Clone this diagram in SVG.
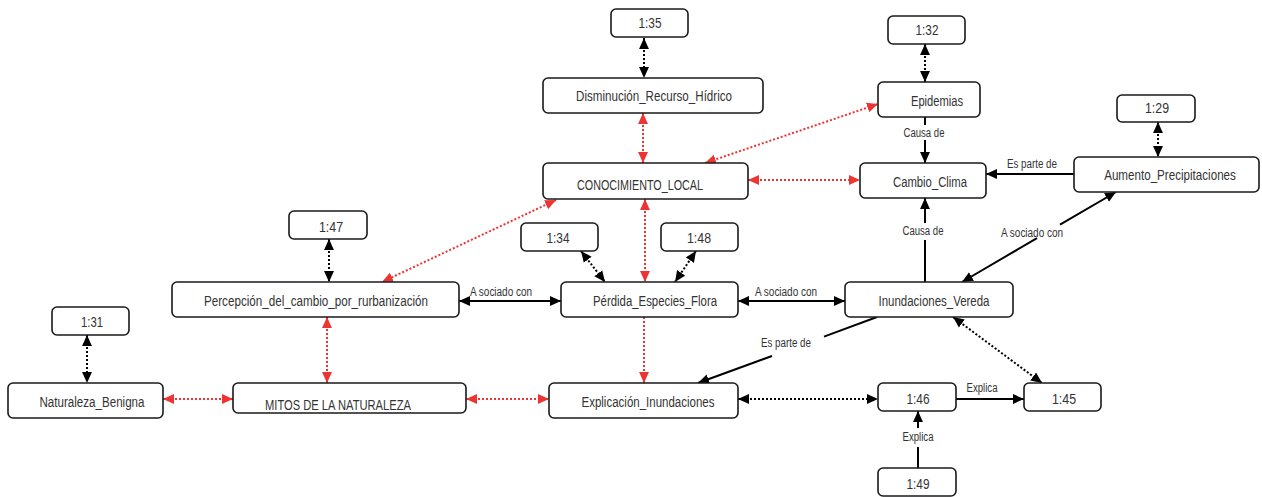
<svg xmlns="http://www.w3.org/2000/svg" width="1262" height="497" viewBox="0 0 1262 497">
<style>
.n rect{fill:#fff;stroke:#1a1a1a;stroke-width:1.6}
text{font-family:"Liberation Sans Narrow","Liberation Sans",Arial,sans-serif;fill:#333;text-anchor:middle}
.n text{font-size:14px}
.l{font-size:12px}
.k{stroke:#000;stroke-width:2;fill:none;stroke-dasharray:2 2}
.r{stroke:#ee3333;stroke-width:2;fill:none;stroke-dasharray:2 2}
.s{stroke:#000;stroke-width:2;fill:none}
.kb{marker-start:url(#mk);marker-end:url(#mk)}
.rb{marker-start:url(#mr);marker-end:url(#mr)}
.re{marker-end:url(#mr)}
.se{marker-end:url(#mk)}
.sb{marker-start:url(#mk);marker-end:url(#mk)}
</style>
<defs>
<marker id="mk" viewBox="0 0 10 10" refX="10" refY="5" markerWidth="11" markerHeight="11" markerUnits="userSpaceOnUse" orient="auto-start-reverse"><path d="M0,0.5 L10,5 L0,9.5 z" fill="#000"/></marker>
<marker id="mr" viewBox="0 0 10 10" refX="10" refY="5" markerWidth="11" markerHeight="11" markerUnits="userSpaceOnUse" orient="auto-start-reverse"><path d="M0,0.5 L10,5 L0,9.5 z" fill="#ee3333"/></marker>
</defs>
<g id="connectors">
<path class="k kb" d="M644,38 L644,78"/>
<path class="r rb" d="M643,113 L643,163"/>
<path class="r rb" d="M705,163 L878,104"/>
<path class="r rb" d="M748,180 L860,180"/>
<path class="r rb" d="M556,200 L382,282"/>
<path class="r rb" d="M645,199 L645,282"/>
<path class="k kb" d="M581,251 L605,282"/>
<path class="k kb" d="M696,251 L675,282"/>
<path class="k kb" d="M329,239 L329,282"/>
<path class="s sb" d="M459,301 L561,301"/>
<text class="l" x="501" y="296" textLength="62" lengthAdjust="spacingAndGlyphs">A sociado con</text>
<path class="s sb" d="M738,301 L845,301"/>
<text class="l" x="786" y="296" textLength="62" lengthAdjust="spacingAndGlyphs">A sociado con</text>
<path class="r re" d="M644,317 L644,383"/>
<path class="r rb" d="M327,317 L327,383"/>
<path class="r rb" d="M163,399 L233,399"/>
<path class="r rb" d="M466,399 L549,399"/>
<path class="k kb" d="M87,335 L87,383"/>
<path class="k kb" d="M738,399 L878,399"/>
<path class="s se" d="M956,399 L1024,399"/>
<text class="l" x="982" y="392" textLength="31" lengthAdjust="spacingAndGlyphs">Explica</text>
<path class="s" d="M918,468 L918,447"/>
<path class="s se" d="M918,428 L918,411"/>
<text class="l" x="918" y="441" textLength="31" lengthAdjust="spacingAndGlyphs">Explica</text>
<path class="k kb" d="M953,317 L1042,383"/>
<path class="s" d="M877,317 L824,336.6"/>
<path class="s se" d="M772,356 L698,383"/>
<text class="l" x="786" y="347" textLength="50" lengthAdjust="spacingAndGlyphs">Es parte de</text>
<path class="s" d="M925,282 L925,240"/>
<path class="s se" d="M925,223 L925,198"/>
<text class="l" x="923" y="235" textLength="41" lengthAdjust="spacingAndGlyphs">Causa de</text>
<path class="s se" d="M1060,224.7 L1116,192"/>
<path class="s se" d="M1037,238.1 L962,282"/>
<text class="l" x="1032" y="237" textLength="62" lengthAdjust="spacingAndGlyphs">A sociado con</text>
<path class="s se" d="M1074,174 L986,174"/>
<text class="l" x="1032" y="168" textLength="50" lengthAdjust="spacingAndGlyphs">Es parte de</text>
<path class="s" d="M925,117 L925,125"/>
<path class="s se" d="M925,140 L925,163"/>
<text class="l" x="924" y="137" textLength="41" lengthAdjust="spacingAndGlyphs">Causa de</text>
<path class="k kb" d="M925,44 L925,82"/>
<path class="k kb" d="M1158,122 L1158,157"/>
</g>
<g id="n135" class="n"><rect x="611" y="9" width="77" height="28" rx="5"/><text x="650" y="28" textLength="23" lengthAdjust="spacingAndGlyphs">1:35</text></g>
<g id="disminucion" class="n"><rect x="543" y="78" width="220" height="35" rx="5"/><text x="654" y="101" textLength="156" lengthAdjust="spacingAndGlyphs">Disminución_Recurso_Hídrico</text></g>
<g id="conocimiento" class="n"><rect x="543" y="163" width="205" height="36" rx="5"/><text x="640" y="190" textLength="126" lengthAdjust="spacingAndGlyphs">CONOCIMIENTO_LOCAL</text></g>
<g id="n132" class="n"><rect x="888" y="16" width="77" height="28" rx="5"/><text x="927" y="35" textLength="23" lengthAdjust="spacingAndGlyphs">1:32</text></g>
<g id="epidemias" class="n"><rect x="878" y="82" width="102" height="35" rx="5"/><text x="937" y="106" textLength="52" lengthAdjust="spacingAndGlyphs">Epidemias</text></g>
<g id="cambio" class="n"><rect x="860" y="163" width="126" height="35" rx="5"/><text x="930" y="187" textLength="74" lengthAdjust="spacingAndGlyphs">Cambio_Clima</text></g>
<g id="n129" class="n"><rect x="1117" y="95" width="78" height="27" rx="5"/><text x="1157" y="113" textLength="24" lengthAdjust="spacingAndGlyphs">1:29</text></g>
<g id="aumento" class="n"><rect x="1074" y="157" width="185" height="35" rx="5"/><text transform="translate(1170,180) scale(0.83,1)">Aumento_Precipitaciones</text></g>
<g id="n147" class="n"><rect x="289" y="211" width="78" height="28" rx="5"/><text x="331" y="232" textLength="24" lengthAdjust="spacingAndGlyphs">1:47</text></g>
<g id="percepcion" class="n"><rect x="172" y="282" width="287" height="35" rx="5"/><text x="316" y="306" textLength="224" lengthAdjust="spacingAndGlyphs">Percepción_del_cambio_por_rurbanización</text></g>
<g id="n134" class="n"><rect x="521" y="223" width="77" height="28" rx="5"/><text x="558" y="243" textLength="23" lengthAdjust="spacingAndGlyphs">1:34</text></g>
<g id="n148" class="n"><rect x="661" y="223" width="77" height="28" rx="5"/><text x="699" y="243" textLength="24" lengthAdjust="spacingAndGlyphs">1:48</text></g>
<g id="perdida" class="n"><rect x="561" y="282" width="177" height="35" rx="5"/><text x="655" y="306" textLength="124" lengthAdjust="spacingAndGlyphs">Pérdida_Especies_Flora</text></g>
<g id="inundaciones" class="n"><rect x="845" y="282" width="168" height="35" rx="5"/><text x="934" y="306" textLength="111" lengthAdjust="spacingAndGlyphs">Inundaciones_Vereda</text></g>
<g id="n131" class="n"><rect x="52" y="307" width="77" height="28" rx="5"/><text x="92" y="327" textLength="22" lengthAdjust="spacingAndGlyphs">1:31</text></g>
<g id="naturaleza" class="n"><rect x="8" y="383" width="155" height="35" rx="5"/><text x="92" y="407" textLength="105" lengthAdjust="spacingAndGlyphs">Naturaleza_Benigna</text></g>
<g id="mitos" class="n"><rect x="233" y="383" width="233" height="30" rx="5"/><text x="338" y="410" textLength="146" lengthAdjust="spacingAndGlyphs">MITOS DE LA NATURALEZA</text></g>
<g id="explicacion" class="n"><rect x="549" y="383" width="189" height="35" rx="5"/><text x="648" y="407" textLength="133" lengthAdjust="spacingAndGlyphs">Explicación_Inundaciones</text></g>
<g id="n146" class="n"><rect x="878" y="383" width="78" height="28" rx="5"/><text x="918" y="404" textLength="23" lengthAdjust="spacingAndGlyphs">1:46</text></g>
<g id="n145" class="n"><rect x="1024" y="383" width="77" height="28" rx="5"/><text x="1064" y="404" textLength="24" lengthAdjust="spacingAndGlyphs">1:45</text></g>
<g id="n149" class="n"><rect x="878" y="468" width="78" height="28" rx="5"/><text x="918" y="489" textLength="23" lengthAdjust="spacingAndGlyphs">1:49</text></g>
</svg>
